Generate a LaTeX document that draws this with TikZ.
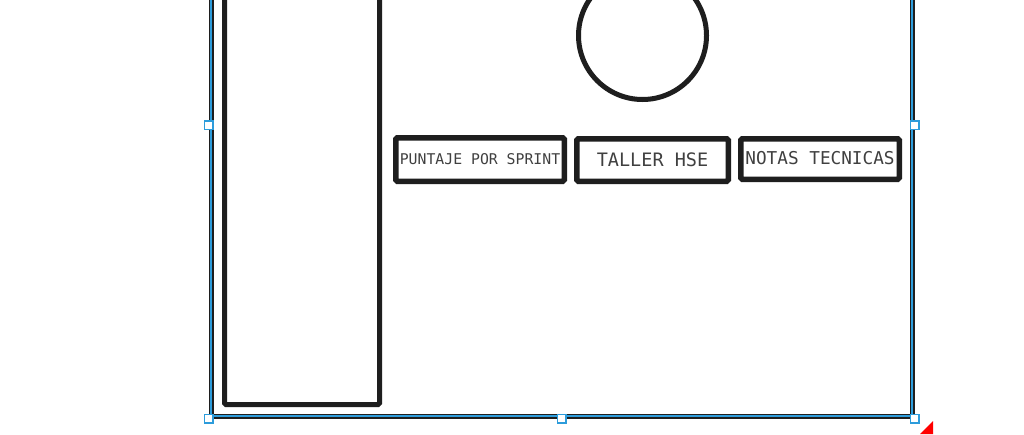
\documentclass[tikz,border=0pt]{standalone}
\usepackage{fontspec}
\setmonofont{DejaVu Sans Mono}
\usepackage{tikz}
\usetikzlibrary{positioning}
\definecolor{ink}{HTML}{1E1E1E}
\definecolor{selblue}{HTML}{2D9CDB}
\tikzset{
  panelbox/.style={
    rectangle, draw=ink, line width=5pt, rounded corners=1.5pt,
    inner sep=0pt
  },
  labelbox/.style={
    rectangle, draw=ink, line width=5.5pt, rounded corners=1.5pt,
    font=\ttfamily, align=center, inner sep=0pt, text=ink!85
  },
  logocircle/.style={
    circle, draw=ink, line width=5pt, inner sep=0pt
  },
  framebox/.style={
    rectangle, draw=ink, line width=5pt, inner sep=0pt,
    postaction={draw=selblue, line width=1.2pt}
  },
  handle/.style={
    rectangle, draw=selblue, fill=white, line width=1.5pt,
    minimum size=8.5pt, inner sep=0pt
  },
}

\begin{document}
\begin{tikzpicture}[x=1pt, y=-1pt]
  \clip (0,0) rectangle (1024,434);
  \fill[white] (0,0) rectangle (1024,434);
  \node[framebox, minimum width=701pt, minimum height=582pt] at (561.5,125) (frame) {};
  \node[panelbox, minimum width=155pt, minimum height=444pt] at (302,182.5) (panel) {};
  \node[logocircle, minimum size=128pt] at (642.5,35.5) (logo) {};
  \node[labelbox, minimum width=168.5pt, minimum height=43.5pt] at (480,159.5) (puntaje)
    {\fontsize{14.8}{16}\selectfont PUNTAJE POR SPRINT};
  \node[labelbox, minimum width=151.5pt, minimum height=42.5pt] at (652.5,160) (taller)
    {\fontsize{18.5}{20}\selectfont TALLER HSE};
  \node[labelbox, minimum width=158.5pt, minimum height=40.5pt] at (820,159) (notas)
    {\raisebox{3pt}{\fontsize{17.7}{19}\selectfont NOTAS TECNICAS}};
  \node[handle] at (frame.west) (hw) {};
  \node[handle] at (frame.east) (he) {};
  \node[handle] at (frame.south west) (hsw) {};
  \node[handle] at (frame.south) (hs) {};
  \node[handle] at (frame.south east) (hse) {};
  \fill[red] (920,434) -- (933,421) -- (933,434) -- cycle;
\end{tikzpicture}
\end{document}
